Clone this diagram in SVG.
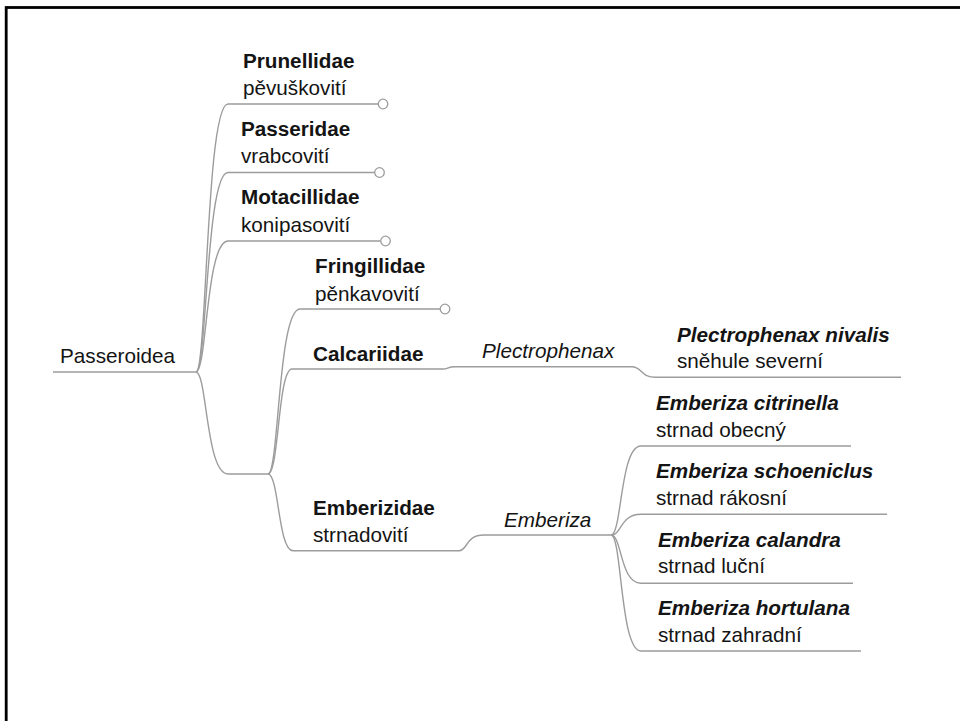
<svg xmlns="http://www.w3.org/2000/svg" width="960" height="721" viewBox="0 0 960 721">
<style>
text{font-family:"Liberation Sans",Arial,sans-serif;font-size:20.7px;fill:#141414}
.b{font-weight:bold}
.i{font-style:italic}
.bi{font-weight:bold;font-style:italic}
.c{fill:none;stroke:#9c9c9c;stroke-width:1.4}
.end{fill:#fff;stroke:#9c9c9c;stroke-width:1.3}
</style>
<rect x="0" y="0" width="960" height="721" fill="#fff"/>
<rect x="6.2" y="7.5" width="1000" height="1000" fill="none" stroke="#000" stroke-width="2.8"/>
<g id="connectors">
<path class="c" d="M53,372 H196"/>
<path class="c" d="M196,372 C207,372 206,104 228,104 H378"/>
<path class="c" d="M196,372 C207,372 206,172.5 228,172.5 H374.5"/>
<path class="c" d="M196,372 C207,372 206,241 228,241 H380.5"/>
<path class="c" d="M196,372 C207,372 206,474 228,474 H268"/>
<path class="c" d="M268,474 C279,474 278,309 300,309 H440"/>
<path class="c" d="M268,474 C279,474 278,369 292,369 H443 C449,369 446,366.7 456,366.7 H632 C642,366.7 640,377.3 656,377.3 H901"/>
<path class="c" d="M268,474 C279,474 278,550.7 293,550.7 H459 C468,550.7 465,535 484,535 H611"/>
<path class="c" d="M611,535 C622,535 620,446 641,446 H851"/>
<path class="c" d="M611,535 C622,535 620,514.3 641,514.3 H887"/>
<path class="c" d="M611,535 C622,535 620,583.3 641,583.3 H853"/>
<path class="c" d="M611,535 C622,535 620,651 641,651 H861"/>
</g>
<g id="passeroidea"><text x="60" y="363.3">Passeroidea</text></g>
<g id="prunellidae"><text class="b" x="243" y="68.3">Prunellidae</text><text x="243" y="95">pěvuškovití</text><circle class="end" cx="383" cy="104" r="4.8"/></g>
<g id="passeridae"><text class="b" x="241" y="136">Passeridae</text><text x="241" y="163.3">vrabcovití</text><circle class="end" cx="379.5" cy="172.5" r="4.8"/></g>
<g id="motacillidae"><text class="b" x="241" y="204">Motacillidae</text><text x="241" y="231.7">konipasovití</text><circle class="end" cx="385.5" cy="241" r="4.8"/></g>
<g id="fringillidae"><text class="b" x="315" y="273.3">Fringillidae</text><text x="315" y="300.7">pěnkavovití</text><circle class="end" cx="445" cy="309" r="4.8"/></g>
<g id="calcariidae"><text class="b" x="313" y="361">Calcariidae</text></g>
<g id="plectrophenax"><text class="i" x="482" y="358">Plectrophenax</text></g>
<g id="plectrophenax-nivalis"><text class="bi" x="677" y="341.7">Plectrophenax nivalis</text><text x="677" y="368.3">sněhule severní</text></g>
<g id="emberizidae"><text class="b" x="313" y="515">Emberizidae</text><text x="313" y="542.3">strnadovití</text></g>
<g id="emberiza"><text class="i" x="504" y="526.7">Emberiza</text></g>
<g id="emberiza-citrinella"><text class="bi" x="656" y="410">Emberiza citrinella</text><text x="656" y="436.7">strnad obecný</text></g>
<g id="emberiza-schoeniclus"><text class="bi" x="656" y="478">Emberiza schoeniclus</text><text x="656" y="505">strnad rákosní</text></g>
<g id="emberiza-calandra"><text class="bi" x="658" y="546.7">Emberiza calandra</text><text x="658" y="573.3">strnad luční</text></g>
<g id="emberiza-hortulana"><text class="bi" x="658" y="615">Emberiza hortulana</text><text x="658" y="641.7">strnad zahradní</text></g>
</svg>
